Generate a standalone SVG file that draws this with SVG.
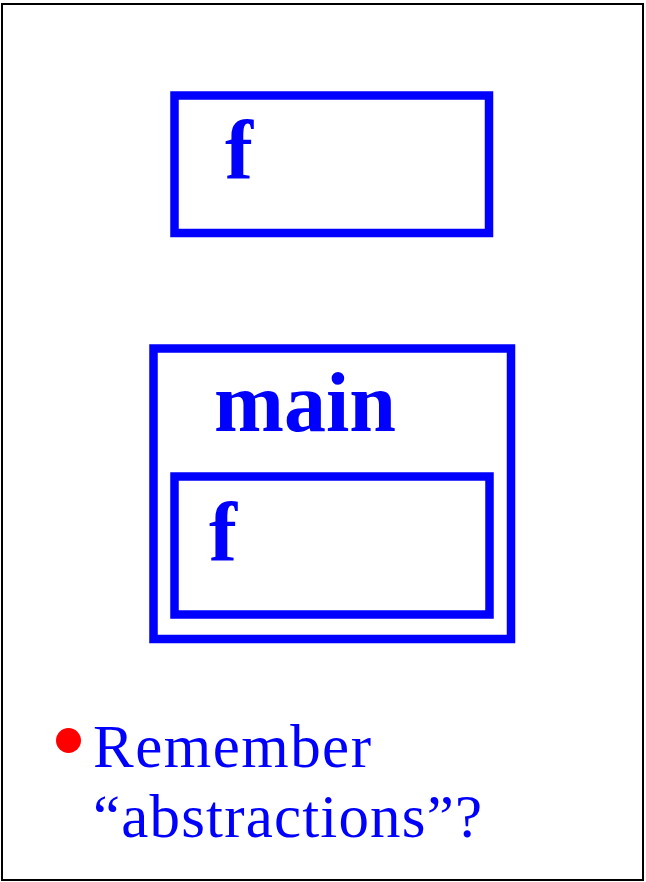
<svg xmlns="http://www.w3.org/2000/svg" width="646" height="882" viewBox="0 0 646 882">
<style>
.box{fill:none;stroke:#0000FF;stroke-width:8.5}
.lbl{font-family:"Liberation Serif","Times New Roman",serif;font-weight:bold;font-size:84px;fill:#0000FF}
.txt{font-family:"Liberation Serif","Times New Roman",serif;font-size:61px;fill:#0000FF}
</style>
<rect x="2" y="4" width="641" height="876" fill="#FFFFFF" stroke="#000000" stroke-width="2"/>
<g id="f-top">
<rect class="box" x="174.5" y="95.5" width="314.5" height="137.5"/>
<text class="lbl" x="225" y="179">f</text>
</g>
<g id="main">
<rect class="box" x="153.5" y="348.5" width="357.5" height="290.5"/>
<text class="lbl" x="214" y="431">main</text>
</g>
<g id="f-inner">
<rect class="box" x="174.5" y="476.5" width="315" height="138"/>
<text class="lbl" x="209" y="561">f</text>
</g>
<g id="connectors"/>
<g id="bullet">
<circle cx="68.5" cy="740.5" r="12.5" fill="#FF0000"/>
<text class="txt" x="93" y="767" textLength="278" lengthAdjust="spacing">Remember</text>
<text class="txt" x="93" y="837" textLength="389" lengthAdjust="spacing">“abstractions”?</text>
</g>
</svg>
